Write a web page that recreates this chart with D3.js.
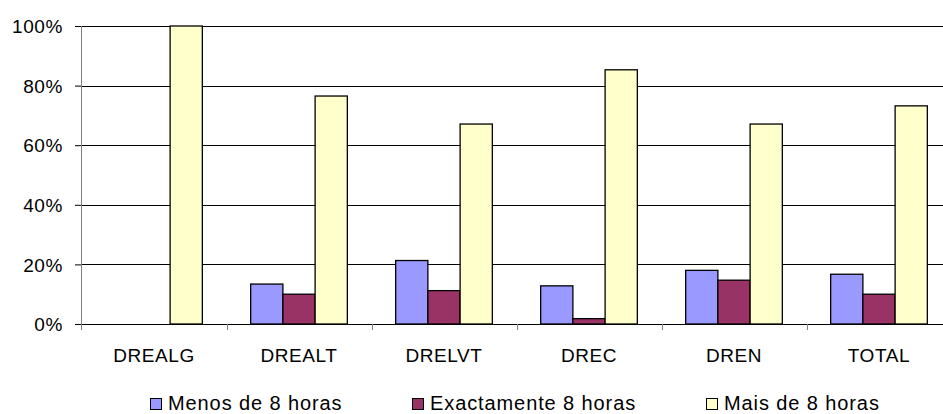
<!DOCTYPE html>
<html>
<head>
<meta charset="utf-8">
<script src="https://cdn.jsdelivr.net/npm/d3@7"></script>
<style>
  html, body { margin: 0; padding: 0; background: #fff; }
  svg { display: block; }
  svg text { font-family: Arial, "Liberation Sans", Helvetica, sans-serif; }
</style>
</head>
<body>
<svg id="chart" width="943" height="414"></svg>
<script>
const categories = ["DREALG", "DREALT", "DRELVT", "DREC", "DREN", "TOTAL"];
const seriesNames = ["Menos de 8 horas", "Exactamente 8 horas", "Mais de 8 horas"];
const menos = [0, 0.134, 0.213, 0.128, 0.180, 0.167];
const exactamente = [0, 0.100, 0.112, 0.018, 0.147, 0.100];
const mais = [1.000, 0.765, 0.671, 0.853, 0.671, 0.732];
const colors = ["#9999FF", "#993366", "#FFFFCC"];
const yTicks = [0, 0.2, 0.4, 0.6, 0.8, 1.0];

const seriesValues = [menos, exactamente, mais];
const FONT = "Arial, \"Liberation Sans\", Helvetica, sans-serif";

const svg = d3.select("#chart");
const plotLeft = 81.5, plotRight = 951.5, plotTop = 26, plotBottom = 324;

const x = d3.scaleBand().domain(categories).range([plotLeft, plotRight]).paddingInner(0).paddingOuter(0);
const y = d3.scaleLinear().domain([0, 1]).range([plotBottom, plotTop]);

// gridlines
svg.append("g").selectAll("line").data(yTicks).join("line")
  .attr("x1", plotLeft).attr("x2", plotRight)
  .attr("y1", d => Math.round(y(d)) + 0.5).attr("y2", d => Math.round(y(d)) + 0.5)
  .attr("stroke", "#000").attr("stroke-width", 1);

// bars
const bw = x.bandwidth() / 4.5;
const inner = d3.scaleBand().domain(d3.range(seriesNames.length))
  .range([0, bw * 3]).padding(0);

const barData = [];
categories.forEach((c, i) => {
  seriesValues.forEach((vals, s) => {
    barData.push({ c, s, v: vals[i] });
  });
});

svg.append("g").selectAll("rect").data(barData.filter(d => d.v > 0)).join("rect")
  .attr("x", d => x(d.c) + x.bandwidth() / 2 - 1.5 * bw + inner(d.s))
  .attr("width", inner.bandwidth())
  .attr("y", d => y(d.v))
  .attr("height", d => plotBottom - y(d.v))
  .attr("fill", d => colors[d.s])
  .attr("stroke", "#000")
  .attr("stroke-width", 1.3);

// y axis
const yAxis = d3.axisLeft(y).tickValues(yTicks).tickSize(6).tickSizeOuter(0)
  .tickFormat(d3.format(".0%"));
const ga = svg.append("g").attr("transform", `translate(${plotLeft - 0.5},0)`).call(yAxis);
ga.attr("font-family", FONT);
ga.select(".domain").attr("stroke", "#808080").attr("d", `M0.5,${plotTop}V${plotBottom + 6}`);
ga.selectAll(".tick line").attr("stroke", "#000");
ga.selectAll(".tick text")
  .attr("x", -18)
  .attr("dy", "0.35em")
  .attr("fill", "#000")
  .style("font-size", "19px")
  .style("letter-spacing", "0.6px")
  .style("font-family", FONT);

// x axis category ticks (boundaries)
const bounds = categories.slice(1).map(c => x(c));
svg.append("g").selectAll("line").data(bounds).join("line")
  .attr("x1", d => Math.round(d) + 0.5).attr("x2", d => Math.round(d) + 0.5)
  .attr("y1", plotBottom).attr("y2", plotBottom + 6)
  .attr("stroke", "#808080").attr("stroke-width", 1);

// category labels
svg.append("g").selectAll("text").data(categories).join("text")
  .attr("x", d => x(d) + x.bandwidth() / 2)
  .attr("y", 361.5)
  .attr("text-anchor", "middle")
  .style("font-size", "19px")
  .style("letter-spacing", "0.6px")
  .style("font-family", FONT)
  .attr("fill", "#000")
  .text(d => d);

// legend
const legendX = [150, 412, 706];
const lg = svg.append("g").selectAll("g").data(seriesNames).join("g")
  .attr("transform", (d, i) => `translate(${legendX[i]},0)`);
lg.append("rect")
  .attr("x", 0.5).attr("y", 398.5).attr("width", 11).attr("height", 11)
  .attr("fill", (d, i) => colors[i]).attr("stroke", "#000").attr("stroke-width", 1);
lg.append("text")
  .attr("x", 18).attr("y", 409.5)
  .style("font-size", "20px")
  .style("letter-spacing", "0.9px")
  .style("font-family", FONT)
  .attr("fill", "#000")
  .text(d => d);
</script>
</body>
</html>
